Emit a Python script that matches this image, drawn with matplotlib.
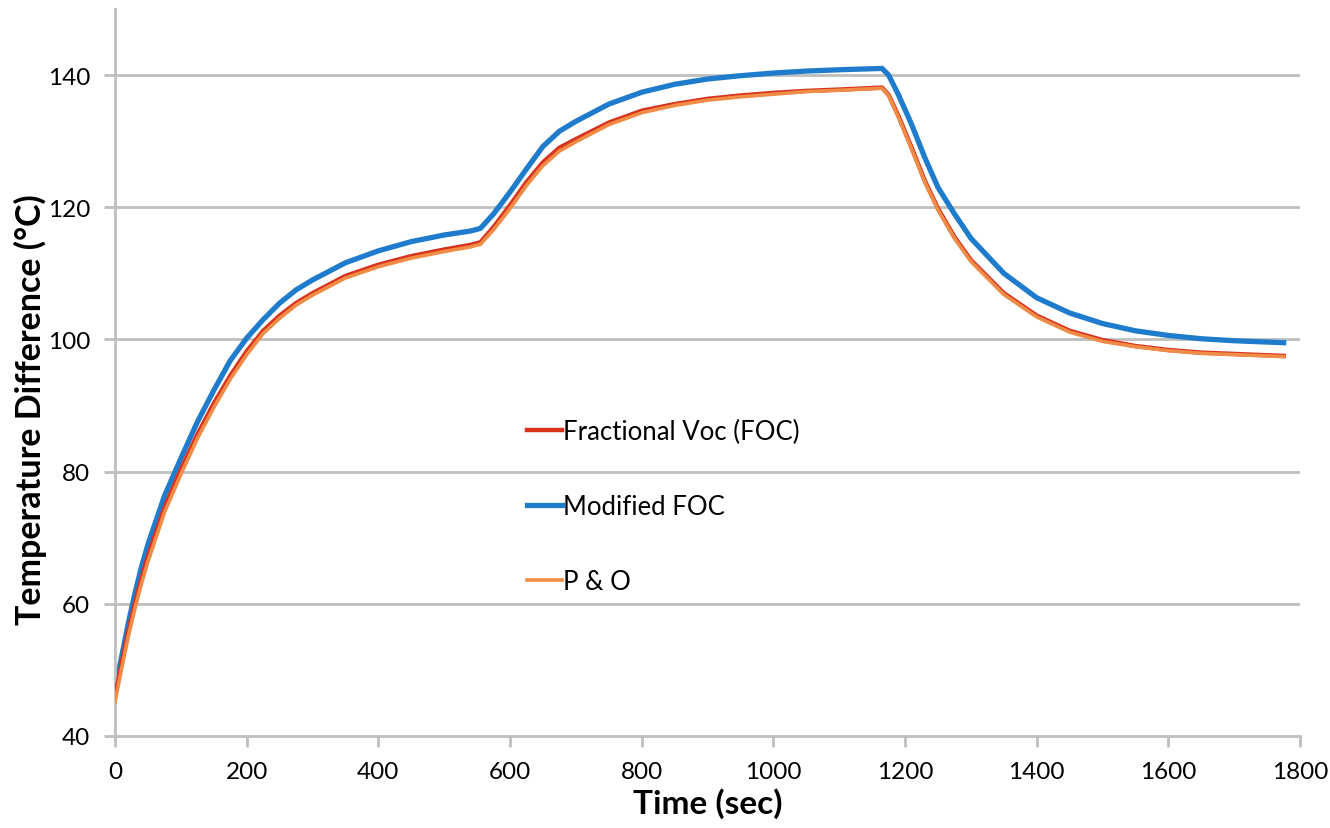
import matplotlib
matplotlib.use("Agg")
import matplotlib.pyplot as plt

plt.rcParams['font.family'] = ['Lato', 'DejaVu Sans']

time_s = [0, 10, 20, 30, 40, 50, 75, 100, 125, 150, 175, 200, 225, 250, 275, 300, 350, 400, 450, 500,
          540, 555, 575, 600, 625, 650, 675, 700, 750, 800, 850, 900, 950, 1000, 1050, 1100, 1165,
          1175, 1190, 1210, 1230, 1250, 1275, 1300, 1350, 1400, 1450, 1500, 1550, 1600, 1650, 1700, 1775]

modified_foc = [47, 52, 57, 61.5, 65.5, 69, 76.3, 82, 87.5, 92.3, 96.8, 100.2, 103, 105.5, 107.5, 109, 111.6, 113.4, 114.8, 115.8,
                116.4, 116.8, 119, 122.3, 125.8, 129.2, 131.5, 133, 135.6, 137.4, 138.6, 139.4, 139.9, 140.3, 140.6, 140.8, 141,
                140, 137, 132.5, 127.5, 123, 119, 115.3, 110, 106.3, 104, 102.4, 101.3, 100.6, 100.1, 99.8, 99.5]

fractional_voc = [46, 51, 55.8, 60, 63.8, 67.2, 74.5, 80.3, 85.6, 90.3, 94.5, 98.2, 101.3, 103.6, 105.5, 107, 109.6, 111.3, 112.6, 113.6,
                  114.3, 114.7, 117, 120.3, 123.8, 126.8, 129, 130.3, 132.8, 134.6, 135.6, 136.4, 136.9, 137.3, 137.6, 137.8, 138.1,
                  137, 133.8, 129, 124, 119.8, 115.5, 112, 107, 103.6, 101.3, 99.9, 99, 98.4, 98, 97.8, 97.5]

p_and_o = [45.2, 50.2, 55, 59.2, 63, 66.4, 73.8, 79.6, 85, 89.7, 94, 97.7, 100.9, 103.2, 105.2, 106.7, 109.3, 111, 112.3, 113.3,
           114, 114.4, 116.6, 119.8, 123.3, 126.3, 128.5, 129.9, 132.5, 134.3, 135.4, 136.2, 136.7, 137.1, 137.5, 137.7, 138,
           136.9, 133.6, 128.8, 123.8, 119.6, 115.3, 111.8, 106.8, 103.4, 101.1, 99.7, 98.9, 98.3, 97.9, 97.7, 97.4]

xticks = [0, 200, 400, 600, 800, 1000, 1200, 1400, 1600, 1800]
yticks = [40, 60, 80, 100, 120, 140]

fig = plt.figure(figsize=(13.3, 8.29), dpi=100)
ax = fig.add_axes([0.0865, 0.111, 0.891, 0.877])

grid_c = '#bfbfbf'
for y in yticks[1:]:
    ax.axhline(y, color=grid_c, lw=2, zorder=0)

l_mod, = ax.plot(time_s, modified_foc, color='#1f7ccc', lw=3.8, label='Modified FOC', zorder=2)
l_foc, = ax.plot(time_s, fractional_voc, color='#d8311c', lw=3.2, label='Fractional Voc (FOC)', zorder=3)
l_po, = ax.plot(time_s, p_and_o, color='#f08c46', lw=2.6, label='P & O', zorder=4)

ax.set_xlim(0, 1800)
ax.set_ylim(40, 150)
ax.set_xticks(xticks)
ax.set_yticks(yticks)
for s in ['top', 'right']:
    ax.spines[s].set_visible(False)
for s in ['left', 'bottom']:
    ax.spines[s].set_color(grid_c)
    ax.spines[s].set_linewidth(2)
ax.tick_params(axis='both', direction='out', color=grid_c, width=2, length=8,
               labelsize=17.5, labelcolor='black', pad=10)
ax.set_xlabel('Time (sec)', fontsize=24, fontweight='bold', labelpad=4)
ax.set_ylabel('Temperature Difference (°C)', fontsize=24.5, fontweight='bold')
ax.yaxis.set_label_coords(-0.057, 0.45)

leg = ax.legend(handles=[l_foc, l_mod, l_po], loc='upper left', bbox_to_anchor=(0.328, 0.468),
                frameon=False, fontsize=18.5, handlelength=1.36, handletextpad=0.05, labelspacing=1.95)

fig.savefig('out.png', dpi=100)
